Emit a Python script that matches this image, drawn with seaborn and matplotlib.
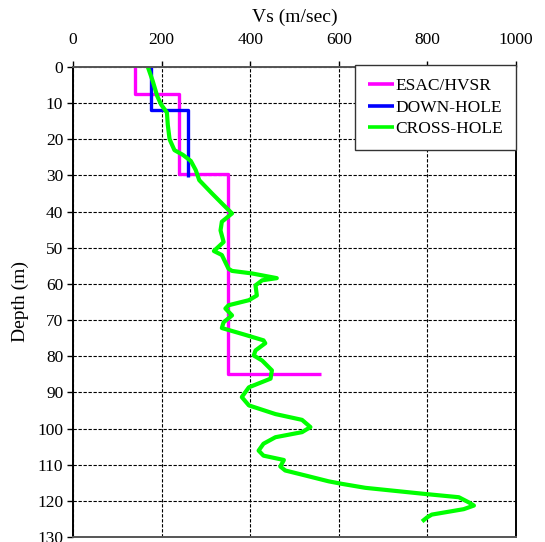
import matplotlib
matplotlib.use("Agg")
import matplotlib.pyplot as plt
import seaborn as sns
import pandas as pd

# ESAC/HVSR step profile
esac_vs = [140, 140, 240, 240, 350, 350, 560]
esac_depth = [0, 7.5, 7.5, 29.5, 29.5, 85, 85]

# Down-hole step profile
down_vs = [175, 175, 260, 260]
down_depth = [0, 12, 12, 30.5]

# Cross-hole profile
cross_depth = [0, 3.9, 8, 10.4, 12.6, 16, 20, 23, 24.3, 26, 28.5, 31.3, 35, 38.2,
               40.5, 42.8, 45.2, 48.4, 50.9, 52, 55.8, 56.4, 57.1, 58.4, 59, 60.4,
               63.2, 64.5, 65.9, 66.8, 68.7, 70.6, 72.2, 73.8, 75.6, 76.4, 78.4,
               79.8, 81.2, 83.9, 86.2, 88.6, 91.3, 93.6, 96, 97.6, 99.6, 101,
               102.4, 104.2, 106.1, 107.5, 108.7, 110.5, 111.6, 113, 114.6, 115.3,
               116.4, 118.1, 119, 120.4, 121.3, 122.3, 123.8, 124.6, 125.7]
cross_vs = [169, 180, 190, 199, 212, 214, 218, 229, 248, 266, 277, 285, 314, 340,
            359, 336, 333, 340, 318, 336, 351, 359, 404, 460, 427, 412,
            415, 397, 351, 344, 359, 340, 336, 381, 430, 434, 412,
            408, 427, 449, 446, 397, 381, 397, 457, 517, 536, 517,
            457, 430, 419, 430, 476, 468, 479, 525, 577, 607,
            660, 795, 871, 893, 905, 882, 810, 799, 788]

x_ticks = [0, 200, 400, 600, 800, 1000]
y_ticks = list(range(0, 131, 10))

plt.rcParams['font.family'] = ['Liberation Serif', 'DejaVu Serif']

fig = plt.figure(figsize=(5.45, 5.42), dpi=100)
ax = fig.add_axes([73/545, 1 - 537/542, (516 - 73)/545, (537 - 67)/542])

sns.lineplot(x=esac_vs, y=esac_depth, sort=False, estimator=None, ax=ax,
             color='#FF00FF', lw=2.4, label='ESAC/HVSR')
sns.lineplot(x=down_vs, y=down_depth, sort=False, estimator=None, ax=ax,
             color='#0000FF', lw=2.4, label='DOWN-HOLE')
sns.lineplot(x=cross_vs, y=cross_depth, sort=False, estimator=None, ax=ax,
             color='#00FF00', lw=3.0, label='CROSS-HOLE')
for ln in ax.get_lines():
    ln.set_solid_joinstyle('round')
    ln.set_solid_capstyle('butt')

ax.set_xlim(0, 1000)
ax.set_ylim(130, 0)
ax.set_xticks(x_ticks)
ax.set_yticks(y_ticks)
ax.xaxis.set_ticks_position('top')
ax.xaxis.set_label_position('top')
ax.tick_params(axis='both', labelsize=12.5, length=4, width=1, color='black', direction='out')
ax.tick_params(axis='x', pad=10)
ax.tick_params(axis='y', pad=3)
ax.set_xlabel('Vs (m/sec)', fontsize=14, labelpad=7)
ax.set_ylabel('Depth (m)', fontsize=14, labelpad=6)

ax.grid(True, color='black', linestyle=(0, (3, 1.5)), linewidth=0.8)
ax.set_axisbelow(True)

for side in ['left', 'right']:
    ax.spines[side].set_color('black')
    ax.spines[side].set_linewidth(1.4)
for side in ['top', 'bottom']:
    ax.spines[side].set_color('#555555')
    ax.spines[side].set_linewidth(1.4)

leg = ax.legend(loc='upper right', bbox_to_anchor=(1.0, 1.004), borderaxespad=0,
                fancybox=False, framealpha=1, edgecolor='#333333', fontsize=12.5,
                handlelength=1.5, handletextpad=0.05, labelspacing=0.3,
                borderpad=0.75)
leg.get_frame().set_linewidth(1.0)
for line in leg.get_lines():
    line.set_linewidth(2.6)

fig.savefig('out.png', dpi=100)
